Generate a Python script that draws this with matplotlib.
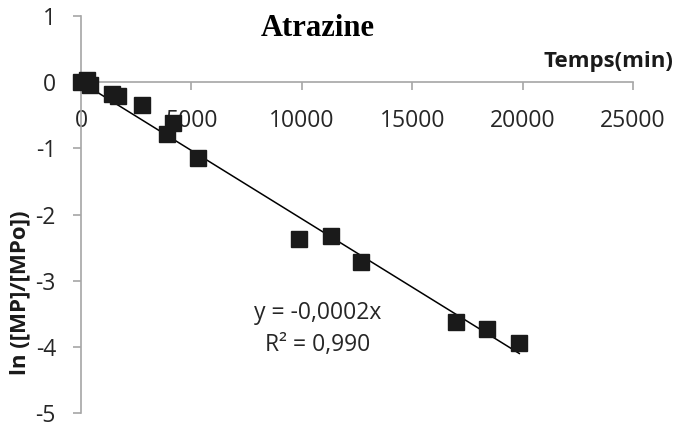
import numpy as np
import matplotlib.pyplot as plt

plt.rcParams['font.family'] = ['Open Sans', 'DejaVu Sans']
plt.rcParams['axes.unicode_minus'] = False

# time (min) and ln([MP]/[MPo])
temps = [0, 250, 400, 1400, 1680, 2760, 3890, 4160, 5300,
         9860, 11300, 12700, 17000, 18400, 19850]
ln_ratio = [0.0, 0.04, -0.05, -0.18, -0.21, -0.35, -0.79, -0.61, -1.15,
            -2.37, -2.33, -2.72, -3.62, -3.73, -3.94]

x_ticks = [0, 5000, 10000, 15000, 20000, 25000]
y_ticks = [1, 0, -1, -2, -3, -4, -5]

x = np.array(temps)
y = np.array(ln_ratio)
# least squares through origin
slope = np.sum(x * y) / np.sum(x * x)

fig = plt.figure(figsize=(6.75, 4.28), dpi=100)
ax = fig.add_axes([81 / 675, 15 / 428, 552 / 675, 397 / 428])

axis_col = '#a6a6a6'
ax.spines['top'].set_visible(False)
ax.spines['right'].set_visible(False)
ax.spines['bottom'].set_position(('data', 0))
for s in ('left', 'bottom'):
    ax.spines[s].set_color(axis_col)
    ax.spines[s].set_linewidth(1.2)

ax.set_xlim(0, 25000)
ax.set_ylim(-5, 1)
ax.set_xticks(x_ticks)
ax.set_yticks(y_ticks)
ax.set_xticklabels([str(t) for t in x_ticks])
ax.set_yticklabels([str(t) for t in y_ticks])
ax.tick_params(axis='both', direction='out', length=6, width=1.2,
               color=axis_col, labelsize=16.5, labelcolor='#262626')
ax.tick_params(axis='x', pad=13)
ax.tick_params(axis='y', pad=12)

xl = np.array([0, x.max()])
ax.plot(xl, slope * xl, color='black', lw=1.1, zorder=2)
ax.plot(x, y, 's', color='#1a1a1a', markersize=11, zorder=3, clip_on=False)

fig.text(318 / 675, 1 - 29 / 428, 'Atrazine', family='Liberation Serif',
         fontweight='bold', fontsize=22, ha='center', va='center')
fig.text(608 / 675, 1 - 62 / 428, 'Temps(min)', fontweight='bold',
         fontsize=16, ha='center', va='center', color='#1a1a1a')
fig.text(20 / 675, 1 - 293 / 428, 'ln ([MP]/[MPo])', fontweight='bold',
         fontsize=16, ha='center', va='center', rotation=90, color='#1a1a1a')

fig.text(318 / 675, 1 - 313 / 428, 'y = -0,0002x', fontsize=16.5,
         ha='center', va='center', color='#262626')
fig.text(318 / 675, 1 - 345 / 428, 'R² = 0,990', fontsize=16.5,
         ha='center', va='center', color='#262626')

fig.savefig('out.png', dpi=100)
